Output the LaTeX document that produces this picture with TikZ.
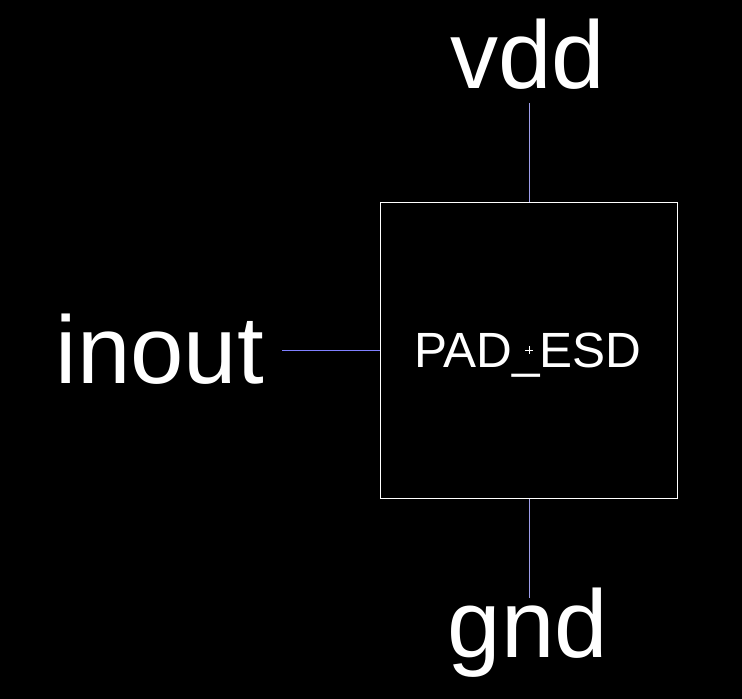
\documentclass[tikz,border=0pt]{standalone}
\usepackage{fontspec}
\setmainfont{Liberation Sans}
\usetikzlibrary{positioning}
\definecolor{pinblue}{rgb}{0.50, 0.50, 1.00}
\definecolor{pinlav}{rgb}{0.62, 0.62, 0.92}
\newcommand\bigfont{\fontsize{96}{96}\selectfont}

\begin{document}
\begin{tikzpicture}[x=1pt, y=-1pt,
    pinname/.style={text=white,inner sep=0pt,anchor=base,font=\bigfont},
    cell/.style={draw=white,line width=1pt,minimum width=297pt,minimum height=296pt,inner sep=0pt},
    wire/.style={line width=1pt}
  ]
    \useasboundingbox[fill=black] (0, 0) rectangle (742, 699);

    \node[cell] (esd) at (529, 350.5) {};
    \node[text=white, inner sep=0pt, anchor=base, font=\fontsize{49.5}{49.5}\selectfont] (esdname) at (528, 367.5) {PAD\_ESD};
    \draw[white, line width=0.8pt] (525, 350) -- ++(8, 0) (529, 346) -- ++(0, 8);

    \node[pinname] (vdd) at (528, 88) {vdd};
    \node[pinname] (gnd) at (528, 657) {gnd};
    \node[pinname] (inout) at (160, 383) {inout};

    \coordinate (vddend) at (529.5, 103);
    \coordinate (gndend) at (529.5, 598);
    \coordinate (inoutend) at (282, 350.5);

    \draw[wire, pinlav] (vddend) -- (vddend |- esd.north);
    \draw[wire, pinlav] (gndend) -- (gndend |- esd.south);
    \draw[wire, pinblue] (inoutend) -- (inoutend -| esd.west);

  \end{tikzpicture}
\end{document}
